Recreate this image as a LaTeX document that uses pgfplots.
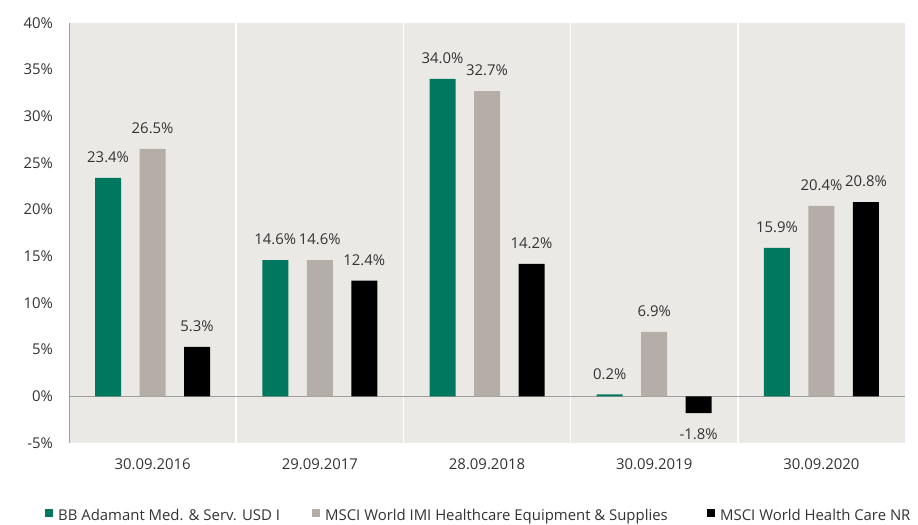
\documentclass[border=0pt]{standalone}
\usepackage{fontspec}
\setmainfont{Open Sans}
\usepackage{pgfplots}
\pgfplotsset{compat=1.18}
\definecolor{bbteal}{HTML}{00785F}
\definecolor{bbgray}{HTML}{B5AEA8}
\definecolor{bgcol}{HTML}{EBE9E5}
\definecolor{txt}{HTML}{333333}
\definecolor{axgray}{HTML}{9E9E9E}
\begin{document}
\fontsize{14.9bp}{17bp}\selectfont
\begin{tikzpicture}
\begin{axis}[
  scale only axis, width=836bp, height=420bp,
  xmin=-0.5, xmax=4.5, ymin=-5, ymax=40,
  ybar=18.5bp, bar width=26bp,
  xtick={0,1,2,3,4},
  xticklabels={30.09.2016,29.09.2017,28.09.2018,30.09.2019,30.09.2020},
  minor xtick={0.5,1.5,2.5,3.5},
  xminorgrids, minor grid style={white, line width=1.5bp},
  ytick={-5,0,5,10,15,20,25,30,35,40},
  yticklabel={\pgfmathprintnumber[assume math mode=true]{\tick}\%},
  extra y ticks={0}, extra y tick labels={},
  extra y tick style={grid=major, major grid style={axgray, line width=1.2bp}},
  major tick length=0pt, minor tick length=0pt,
  axis line style={draw=none},
  axis background/.style={fill=bgcol},
  tick label style={color=txt},
  yticklabel style={xshift=-11bp},
  xticklabel style={yshift=-11bp},
  nodes near coords={\pgfmathprintnumber[fixed,fixed zerofill,precision=1,assume math mode=true]{\pgfplotspointmeta}\%},
  every node near coord/.append style={color=txt, inner ysep=15bp, inner xsep=0pt},
  legend columns=3,
  legend style={draw=none, fill=none, inner sep=0pt, at={(-0.0287,-0.1738)}, anchor=west,
    nodes={inner sep=0pt, text=txt},
    /tikz/every odd column/.style={column sep=5bp},
    /tikz/every even column/.style={column sep=0bp}},
  legend image code/.code={\fill[#1] (0bp,-1bp) rectangle (8bp,7bp);},
]
\addplot[fill=bbteal, draw=none] coordinates {(0,23.4) (1,14.6) (2,34.0) (3,0.2) (4,15.9)};
\addplot[fill=bbgray, draw=none] coordinates {(0,26.5) (1,14.6) (2,32.7) (3,6.9) (4,20.4)};
\addplot[fill=black, draw=none] coordinates {(0,5.3) (1,12.4) (2,14.2) (3,-1.8) (4,20.8)};
\legend{\makebox[254bp][l]{BB Adamant Med. \& Serv. USD I},\makebox[382bp][l]{MSCI World IMI Healthcare Equipment \& Supplies},MSCI World Health Care NR}
\draw[axgray, line width=2bp] (rel axis cs:0,0) -- (rel axis cs:0,1);
\end{axis}
\path[use as bounding box] (-69bp,-82bp) rectangle (849bp,443bp);
\end{tikzpicture}
\end{document}
